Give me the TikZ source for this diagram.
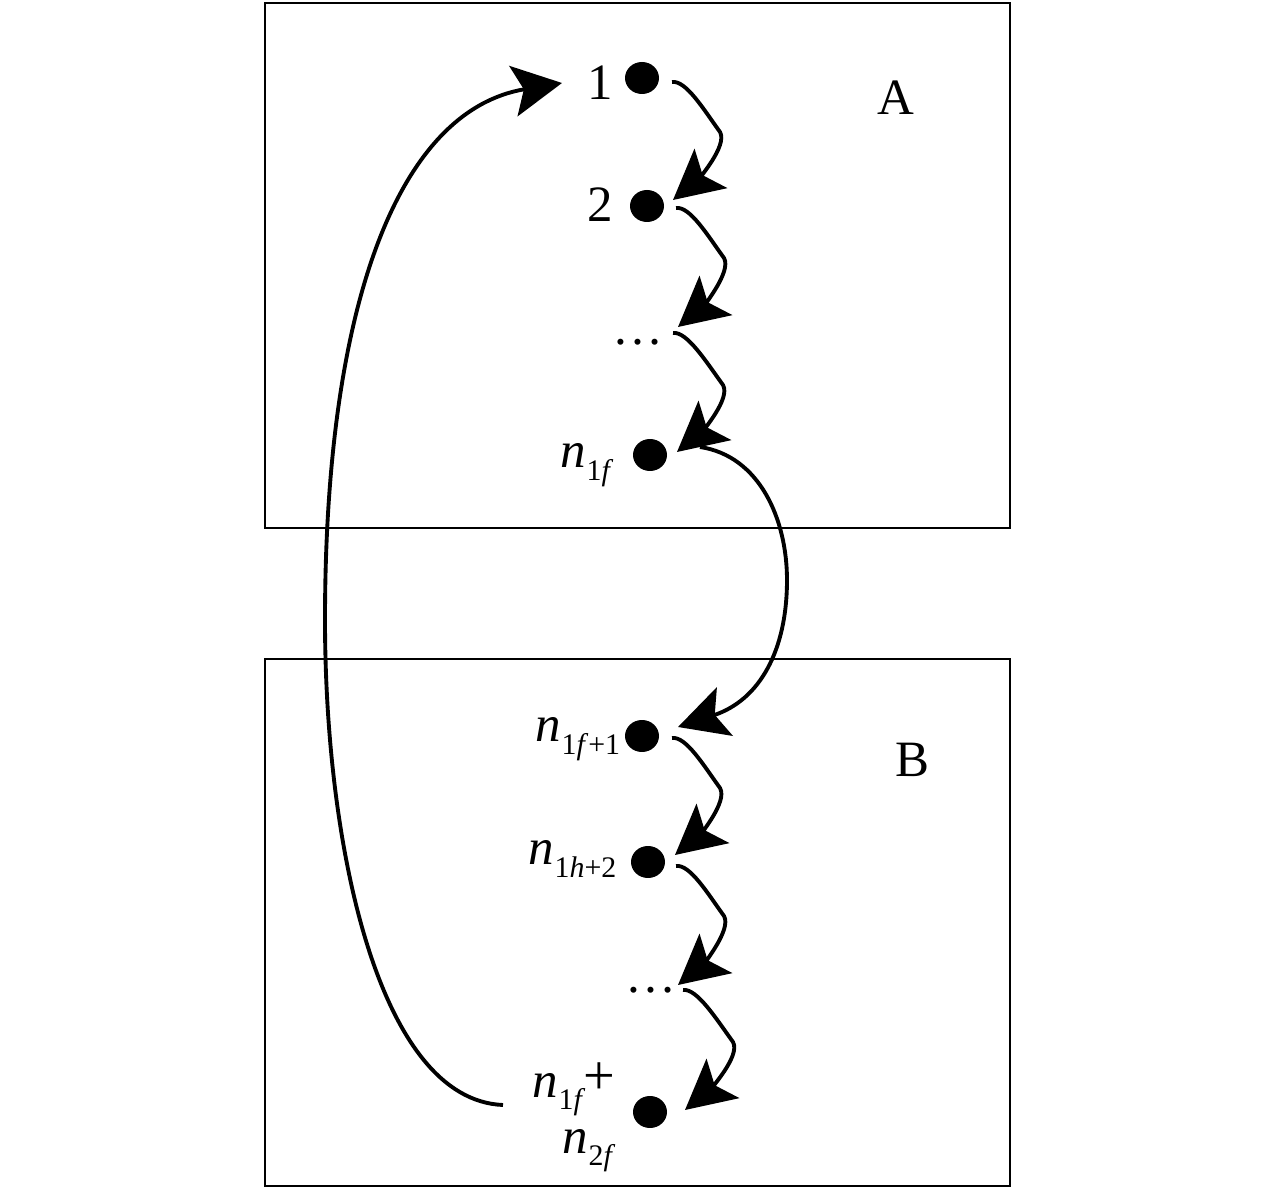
\documentclass[tikz,border=0pt]{standalone}
\usepackage{fontspec}
\setmainfont{Liberation Serif}
\usetikzlibrary{arrows.meta,shapes.geometric}
\newcommand{\nsub}[1]{\textit{n}\kern0.5pt\raisebox{-0.25em}{\fontsize{17}{17}\selectfont #1}}
\tikzset{
  dotnode/.style={ellipse,fill=black,inner sep=0pt,minimum width=0.68cm,minimum height=0.64cm},
  lbl/.style={inner sep=0pt,anchor=base,font=\fontsize{29}{29}\selectfont},
  nlbl/.style={inner sep=0pt,anchor=base west,font=\fontsize{29}{29}\selectfont},
  box/.style={draw=black,line width=1.7pt},
  arr/.style={line width=2.2pt,-{Stealth[length=28pt,width=29pt,inset=6pt]}},
}
\begin{document}
\begin{tikzpicture}[x=0.02cm,y=-0.02cm]
\useasboundingbox (0,0) rectangle (1276,1189);
\fill[white] (0,0) rectangle (1276,1189);
% boxes
\draw[box] (265,3) rectangle (1010,528);
\draw[box] (265,659) rectangle (1010,1186);
% dots
\node[dotnode] (d1) at (642,78) {};
\node[dotnode] (d2) at (647,206) {};
\node[dotnode] (d3) at (650,455) {};
\node[dotnode] (d4) at (642,736) {};
\node[dotnode] (d5) at (648,862) {};
\node[dotnode] (d6) at (650,1112) {};
% ellipses
\node[inner sep=0pt,font=\fontsize{29}{29}\selectfont] (e1) at (638,342) {\ldots};
\node[inner sep=0pt,font=\fontsize{29}{29}\selectfont] (e2) at (651,990) {\ldots};
% labels
\node[lbl] (l1) at (600,100) {1};
\node[lbl] (l2) at (600,222) {2};
\node[lbl] (lA) at (896,115) {A};
\node[lbl] (lB) at (912,777) {B};
\node[nlbl] (l3) at (560,468) {\nsub{1\textit{f}}};
\node[nlbl] (l4) at (535,742) {\nsub{1\textit{f}+1}};
\node[nlbl] (l5) at (528,865) {\nsub{1\textit{h}+2}};
\node[nlbl] (l6) at (532,1097) {\nsub{1\textit{f}}\kern-1pt\raisebox{0.04em}{\fontsize{32}{32}\selectfont +}};
\node[nlbl] (l7) at (562,1153) {\nsub{2\textit{f}}};
% chain arrows
\draw[arr] ([shift={(30,4)}]d1.center) .. controls +(14,-2) and +(-16,-22) .. ++(48,50)
   .. controls +(8,14) and +(24,-20) .. ([shift={(26,-6)}]d2.center);
\draw[arr] ([shift={(29,2)}]d2.center) .. controls +(14,-2) and +(-16,-22) .. ++(48,50)
   .. controls +(8,14) and +(24,-20) .. ([shift={(40,-15)}]e1.center);
\draw[arr] ([shift={(35,-9)}]e1.center) .. controls +(14,-2) and +(-16,-22) .. ++(50,52)
   .. controls +(8,14) and +(24,-20) .. ([shift={(27,-3)}]d3.center);
\draw[arr] ([shift={(30,2)}]d4.center) .. controls +(14,-2) and +(-16,-22) .. ++(48,50)
   .. controls +(8,14) and +(24,-20) .. ([shift={(27,-7)}]d5.center);
\draw[arr] ([shift={(28,4)}]d5.center) .. controls +(14,-2) and +(-16,-22) .. ++(48,50)
   .. controls +(8,14) and +(24,-20) .. ([shift={(27,-5)}]e2.center);
\draw[arr] ([shift={(32,0)}]e2.center) .. controls +(14,-2) and +(-16,-22) .. ++(50,52)
   .. controls +(8,14) and +(24,-20) .. ([shift={(35,-2)}]d6.center);
% long arrow A to B
\draw[arr] ([shift={(50,-8)}]d3.center) .. controls +(60,9) and +(0,-60) .. (787,580)
   .. controls +(0,70) and +(82,-27) .. ([shift={(36,-9)}]d4.center);
% long return arrow
\coordinate (s) at (503,1105);
\draw[arr] (s) .. controls (380,1100) and (325,850) .. (325,620)
   .. controls (325,300) and (400,110) .. ([shift={(-38,-17)}]l1.base);
\end{tikzpicture}
\end{document}
